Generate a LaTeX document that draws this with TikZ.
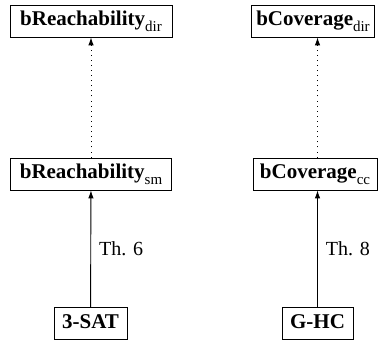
\documentclass[tikz,border=0pt]{standalone}
\usepackage{fontspec}
\setmainfont{Liberation Serif}
\usetikzlibrary{arrows.meta}
\newcommand{\sbx}[1]{\raisebox{-0.28em}{\fontsize{15}{15}\selectfont\mdseries #1}}
\begin{document}
\begin{tikzpicture}[x=1pt,y=1pt,
  probbox/.style={draw, line width=0.8pt, font=\fontsize{21}{25}\selectfont\bfseries,
    inner xsep=4pt, inner ysep=0pt, text height=15pt, text depth=6pt, minimum height=32pt},
  reduction/.style={line width=0.9pt, -{Latex[length=8pt,width=5.5pt]}},
  weakred/.style={line width=0.9pt, dash pattern=on 0.9pt off 4.2pt, -{Latex[length=8pt,width=5.5pt]}},
  thlabel/.style={font=\fontsize{20}{24}\selectfont, right, inner xsep=8pt}]
\useasboundingbox (0,0) rectangle (379,-347);
\node[probbox, minimum width=162pt] (rdir) at (91,-21) {bReachability\sbx{dir}};
\node[probbox, minimum width=161pt] (rsm) at (91,-174) {bReachability\sbx{sm}};
\node[probbox, minimum width=73pt] (sat) at (90.5,-323.5) {3-SAT};
\node[probbox, minimum width=123pt] (cdir) at (313,-21) {bCoverage\sbx{dir}};
\node[probbox, minimum width=124pt] (ccc) at (315,-174) {bCoverage\sbx{cc}};
\node[probbox, minimum width=71pt] (ghc) at (317.5,-323.5) {G-HC};
\draw[reduction] (sat) -- node[thlabel] {Th. 6} (rsm);
\draw[weakred] (rsm) -- (rdir);
\draw[reduction] (ghc.north) -- node[thlabel] {Th. 8} (ghc.north |- ccc.south);
\draw[weakred] (ghc.north |- ccc.north) -- (ghc.north |- cdir.south);
\end{tikzpicture}
\end{document}
